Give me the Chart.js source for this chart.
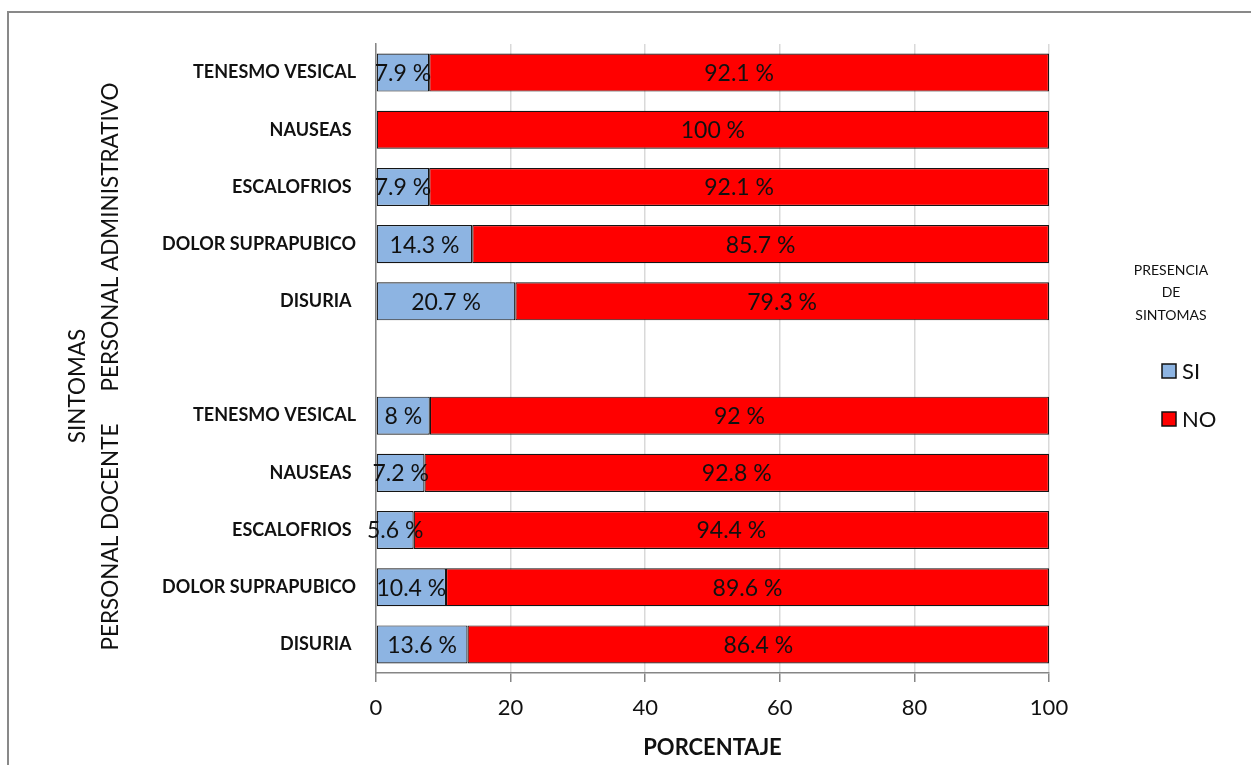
<!DOCTYPE html>
<html lang="es">
<head>
<meta charset="utf-8">
<title>Presencia de síntomas</title>
<script src="https://cdn.jsdelivr.net/npm/chart.js@4.4.1/dist/chart.umd.min.js"></script>
<style>
  html, body { margin: 0; padding: 0; background: #ffffff; }
  #wrap { width: 1251px; height: 765px; }
</style>
</head>
<body>
<div id="wrap"><canvas id="chart" width="1251" height="765"></canvas></div>
<script>
// Symptoms per staff group, top to bottom; the empty entry separates the groups.
const categories = [
  'TENESMO VESICAL', 'NAUSEAS ', 'ESCALOFRIOS ', 'DOLOR SUPRAPUBICO', 'DISURIA ',
  '',
  'TENESMO VESICAL', 'NAUSEAS ', 'ESCALOFRIOS ', 'DOLOR SUPRAPUBICO', 'DISURIA '
];
// Percentage that reported the symptom (SI) and did not (NO).
const siValues = [7.9, 0, 7.9, 14.3, 20.7, null, 8, 7.2, 5.6, 10.4, 13.6];
const noValues = [92.1, 100, 92.1, 85.7, 79.3, null, 92, 92.8, 94.4, 89.6, 86.4];
const xTicks = [0, 20, 40, 60, 80, 100];
const groupLabels = ['PERSONAL ADMINISTRATIVO', 'PERSONAL DOCENTE'];
const seriesNames = ['SI', 'NO'];
const seriesColors = ['#8DB4E2', '#FF0000'];
const legendTitle = ['PRESENCIA', 'DE', 'SINTOMAS'];

const FONT = 'Lato, "Open Sans", sans-serif';
const AXIS_GREY = '#868686';

// White background and the grey frame around the chart.
const frame = {
  id: 'frame',
  beforeDraw(chart) {
    const ctx = chart.ctx;
    ctx.save();
    ctx.fillStyle = '#ffffff';
    ctx.fillRect(0, 0, chart.width, chart.height);
    ctx.strokeStyle = '#898989';
    ctx.lineWidth = 2;
    ctx.strokeRect(8, 12, chart.width + 20, chart.height + 20);
    ctx.restore();
  }
};

// Value labels centred on each bar segment.
const valueLabels = {
  id: 'valueLabels',
  afterDatasetsDraw(chart) {
    const ctx = chart.ctx;
    ctx.save();
    ctx.font = '23px ' + FONT;
    ctx.fillStyle = '#111111';
    ctx.textAlign = 'center';
    ctx.textBaseline = 'middle';
    chart.data.datasets.forEach((ds, di) => {
      const meta = chart.getDatasetMeta(di);
      meta.data.forEach((bar, i) => {
        const v = ds.data[i];
        if (v === null || v === 0) return;
        const p = bar.getProps(['x', 'y', 'base'], true);
        ctx.fillText(v + ' %', (p.x + p.base) / 2, p.y + 1);
      });
    });
    ctx.restore();
  }
};

// Axis title, group captions and the legend block.
const annotations = {
  id: 'annotations',
  afterDraw(chart) {
    const ctx = chart.ctx;
    ctx.save();
    ctx.fillStyle = '#111111';
    ctx.textAlign = 'center';
    ctx.textBaseline = 'middle';

    const vText = (text, x, cy, font) => {
      ctx.save();
      ctx.translate(x, cy);
      ctx.rotate(-Math.PI / 2);
      ctx.font = font;
      ctx.fillText(text, 0, 0);
      ctx.restore();
    };
    vText('SINTOMAS', 78, 386, '22.5px ' + FONT);
    vText(groupLabels[0], 111, 237, '22.5px ' + FONT);
    vText(groupLabels[1], 111, 537, '22.5px ' + FONT);

    // Legend
    ctx.font = '14px ' + FONT;
    legendTitle.forEach((t, i) => ctx.fillText(t, 1171, 270 + i * 22.5));
    ctx.textAlign = 'left';
    ctx.font = '22px ' + FONT;
    seriesNames.forEach((name, i) => {
      const cy = 371 + i * 48;
      ctx.fillStyle = seriesColors[i];
      ctx.fillRect(1162, cy - 7, 14, 14);
      ctx.strokeStyle = '#111111';
      ctx.lineWidth = 1.5;
      ctx.strokeRect(1162, cy - 7, 14, 14);
      ctx.fillStyle = '#111111';
      ctx.fillText(name, 1182, cy + 1);
    });
    ctx.restore();
  }
};

new Chart(document.getElementById('chart'), {
  type: 'bar',
  data: {
    labels: categories,
    datasets: [
      {
        label: seriesNames[0],
        data: siValues,
        backgroundColor: seriesColors[0],
        borderColor: '#151515',
        borderWidth: 1.2,
        borderSkipped: false
      },
      {
        label: seriesNames[1],
        data: noValues,
        backgroundColor: seriesColors[1],
        borderColor: '#151515',
        borderWidth: 1.2,
        borderSkipped: false
      }
    ]
  },
  options: {
    indexAxis: 'y',
    responsive: false,
    animation: false,
    layout: { padding: { left: 0, right: 202, top: 44, bottom: 0 } },
    datasets: { bar: { categoryPercentage: 1, barPercentage: 0.665 } },
    plugins: {
      legend: { display: false },
      tooltip: { enabled: false }
    },
    scales: {
      x: {
        stacked: true,
        min: 0,
        max: 100,
        afterBuildTicks(scale) {
          scale.ticks = xTicks.map(v => ({ value: v }));
        },
        afterFit(scale) { scale.height = 92; },
        grid: {
          color: '#d9d9d9',
          lineWidth: 1.5,
          tickColor: AXIS_GREY,
          tickLength: 9,
          drawTicks: true
        },
        border: { display: true, color: AXIS_GREY, width: 1.5 },
        ticks: {
          color: '#111111',
          font: { family: FONT, size: 22 },
          padding: 13,
          maxRotation: 0
        },
        title: {
          display: true,
          text: 'PORCENTAJE',
          color: '#111111',
          font: { family: FONT, size: 22, weight: 'bold' },
          padding: { top: 0, bottom: 4 }
        }
      },
      y: {
        stacked: true,
        afterFit(scale) { scale.width = 376; },
        grid: { display: false, drawTicks: false },
        border: { display: true, color: AXIS_GREY, width: 1.5 },
        ticks: {
          color: '#111111',
          font: { family: FONT, size: 18, weight: 'bold' },
          padding: 20,
          autoSkip: false
        }
      }
    }
  },
  plugins: [frame, valueLabels, annotations]
});
</script>
</body>
</html>
